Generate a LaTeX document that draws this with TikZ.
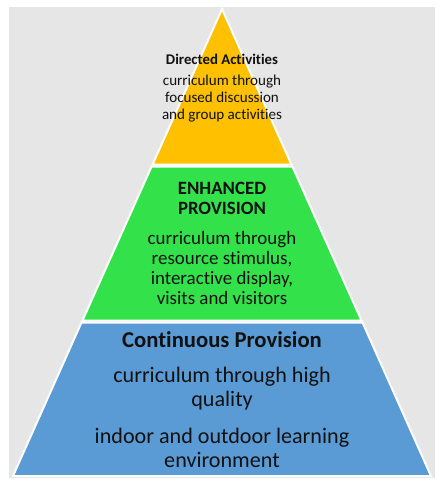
\documentclass[tikz,border=0pt]{standalone}
\usepackage{fontspec}
\setmainfont{Carlito}[Ligatures={NoCommon}]
\definecolor{bggray}{HTML}{E6E6E6}
\definecolor{lyellow}{HTML}{FFC000}
\definecolor{lgreen}{HTML}{33E24A}
\definecolor{lblue}{HTML}{5B9BD5}
\definecolor{txt}{HTML}{111111}
\begin{document}
\begin{tikzpicture}[x=0.75pt,y=-0.75pt,
  layer/.style={draw=white,line width=1.5pt,line join=miter},
  lbl/.style={align=center,text=txt,inner sep=0pt}]
\useasboundingbox (0,0) rectangle (435,481);
\fill[bggray] (9,6) rectangle (435,478);
\draw[white,line width=0.6pt] (9,6.3) -- (435,6.3);
% pyramid coordinates
\coordinate (apex) at (222,9);
\coordinate (yl) at (152.6,164.5);
\coordinate (yr) at (291.4,164.5);
\coordinate (gl) at (151.6,166.5);
\coordinate (gr) at (292.4,166.5);
\coordinate (gbl) at (82.5,320.5);
\coordinate (gbr) at (361.5,320.5);
\coordinate (bl) at (81.5,322.5);
\coordinate (br) at (362.5,322.5);
\coordinate (bbl) at (13,476);
\coordinate (bbr) at (431,476);
\filldraw[layer,fill=lyellow] (apex) -- (yr) -- (yl) -- cycle;
\filldraw[layer,fill=lgreen] (gl) -- (gr) -- (gbr) -- (gbl) -- cycle;
\filldraw[layer,fill=lblue] (bl) -- (br) -- (bbr) -- (bbl) -- cycle;
% texts
\node[lbl,font=\fontsize{11.1}{13}\selectfont\bfseries] (t1) at (222,59) {Directed Activities};
\node[lbl,font=\fontsize{11.3}{12.75}\selectfont] (t2) at (222,98.5) {curriculum through\\focused discussion\\and group activities};
\node[lbl,font=\fontsize{14.1}{15}\selectfont\bfseries] (g1) at (222,198) {ENHANCED\\PROVISION};
\node[lbl,font=\fontsize{14.2}{15}\selectfont] (g2) at (222,268) {curriculum through\\resource stimulus,\\interactive display,\\visits and visitors};
\node[lbl,font=\fontsize{17}{18}\selectfont\bfseries] (b1) at (222,340) {Continuous Provision};
\node[lbl,font=\fontsize{16.6}{18}\selectfont] (b2) at (222,389) {curriculum through high\\quality};
\node[lbl,font=\fontsize{16.6}{18}\selectfont] (b3) at (222,448) {indoor and outdoor learning\\environment};
\end{tikzpicture}
\end{document}
